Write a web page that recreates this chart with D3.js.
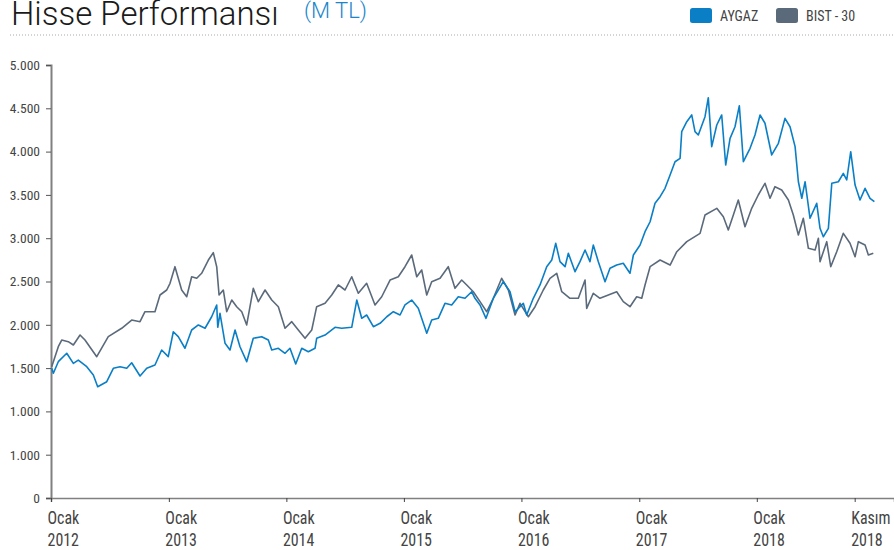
<!DOCTYPE html>
<html><head><meta charset="utf-8">
<script src="https://cdn.jsdelivr.net/npm/d3@7/dist/d3.min.js"></script>
<style>
body{margin:0;background:#fff;}
svg{display:block;}
</style></head>
<body><svg id="c" width="894" height="550"></svg>
<script>
// ---- data (years since 1 Jan 2012, values) ----
const bistTime = [0.006,0.062,0.091,0.147,0.190,0.247,0.289,0.389,0.487,0.601,0.686,0.757,0.799,0.884,0.927,0.984,1.012,1.054,1.111,1.154,1.196,1.239,1.281,1.338,1.380,1.409,1.429,1.465,1.494,1.537,1.579,1.622,1.664,1.720,1.763,1.820,1.877,1.933,1.990,2.047,2.103,2.160,2.217,2.259,2.330,2.387,2.443,2.500,2.557,2.613,2.684,2.755,2.812,2.883,2.953,3.010,3.067,3.110,3.152,3.195,3.237,3.308,3.378,3.435,3.492,3.535,3.591,3.648,3.705,3.761,3.832,3.889,3.946,3.988,4.059,4.116,4.186,4.243,4.300,4.343,4.413,4.484,4.541,4.555,4.611,4.668,4.739,4.810,4.866,4.923,4.980,5.023,5.051,5.094,5.179,5.264,5.321,5.406,5.519,5.561,5.661,5.717,5.759,5.802,5.844,5.901,5.958,6.014,6.071,6.114,6.156,6.213,6.270,6.312,6.355,6.397,6.440,6.497,6.525,6.539,6.596,6.630,6.681,6.737,6.794,6.837,6.865,6.922,6.950,6.992];
const bistValues = [1516,1747,1824,1805,1767,1882,1824,1632,1863,1960,2055,2036,2151,2151,2344,2402,2479,2671,2402,2324,2555,2537,2595,2748,2833,2671,2344,2402,2151,2286,2209,2151,1998,2421,2267,2402,2286,2209,1960,2036,1940,1844,1940,2209,2248,2344,2460,2402,2555,2364,2479,2229,2324,2517,2555,2671,2806,2555,2633,2344,2498,2537,2671,2421,2517,2460,2382,2267,2151,2306,2537,2402,2113,2248,2093,2209,2402,2537,2595,2382,2306,2306,2517,2190,2364,2306,2344,2382,2267,2209,2324,2306,2460,2671,2748,2690,2844,2960,3056,3268,3345,3248,3095,3268,3441,3133,3345,3499,3634,3461,3595,3556,3441,3268,3037,3230,2883,2864,2999,2729,2960,2671,2844,3056,2941,2786,2960,2921,2806,2826];
const aygazTime = [0.006,0.020,0.062,0.134,0.190,0.232,0.304,0.360,0.397,0.474,0.530,0.587,0.644,0.686,0.757,0.814,0.884,0.941,0.997,1.040,1.082,1.139,1.196,1.253,1.310,1.366,1.409,1.418,1.437,1.480,1.522,1.565,1.607,1.664,1.720,1.792,1.848,1.877,1.933,1.990,2.032,2.081,2.132,2.188,2.245,2.259,2.330,2.415,2.472,2.557,2.600,2.642,2.684,2.741,2.798,2.855,2.911,2.968,3.010,3.067,3.123,3.195,3.237,3.293,3.350,3.407,3.463,3.520,3.577,3.605,3.648,3.699,3.761,3.846,3.903,3.946,4.016,4.045,4.101,4.158,4.215,4.258,4.292,4.328,4.371,4.399,4.456,4.498,4.541,4.583,4.611,4.654,4.711,4.753,4.810,4.866,4.923,4.952,5.009,5.051,5.094,5.136,5.179,5.221,5.264,5.306,5.349,5.363,5.406,5.448,5.476,5.504,5.561,5.589,5.618,5.661,5.703,5.737,5.774,5.816,5.853,5.887,5.944,5.986,6.029,6.071,6.128,6.185,6.241,6.284,6.327,6.355,6.384,6.412,6.454,6.511,6.539,6.567,6.610,6.639,6.695,6.737,6.766,6.800,6.837,6.879,6.922,6.964,7.001];
const aygazValues = [1498,1440,1574,1671,1555,1593,1516,1420,1285,1343,1498,1516,1498,1562,1409,1498,1536,1709,1632,1920,1863,1729,1940,1998,1960,2093,2229,1971,2133,1786,1709,1940,1747,1574,1844,1863,1824,1709,1729,1671,1729,1547,1729,1689,1729,1844,1882,1971,1960,1971,2286,2075,2113,1978,2017,2093,2151,2113,2229,2286,2190,1902,2055,2075,2248,2229,2324,2306,2382,2306,2229,2075,2306,2498,2382,2151,2248,2113,2306,2460,2671,2748,2941,2729,2671,2826,2613,2729,2864,2729,2921,2729,2498,2652,2690,2710,2595,2806,2921,3075,3190,3403,3479,3576,3730,3883,3922,4230,4345,4423,4230,4192,4403,4622,4057,4307,4423,3845,4153,4287,4530,3883,4038,4192,4423,4327,3961,4096,4384,4287,4057,3652,3461,3652,3230,3403,3114,3017,3114,3634,3652,3749,3672,3999,3614,3441,3576,3461,3421];
const yTickValues = [0,500,1000,1500,2000,2500,3000,3500,4000,4500,5000];
const yTickLabels = ["0","1.000","1.000","1.500","2.000","2.500","3.000","3.500","4.000","4.500","5.000"];
const xTickDates = ["2012-01-01","2013-01-01","2014-01-01","2015-01-01","2016-01-01","2017-01-01","2018-01-01","2018-11-01"];
const xTickLabels = [["Ocak","2012"],["Ocak","2013"],["Ocak","2014"],["Ocak","2015"],["Ocak","2016"],["Ocak","2017"],["Ocak","2018"],["Kasım","2018"]];
const seriesNames = ["AYGAZ","BIST - 30"];
const seriesColors = ["#0a7fc6","#5b6a7b"];

// ---- helpers ----
const base = Date.UTC(2012,0,1);
const toDate = t => new Date(base + t*365.25*864e5);

const svg = d3.select("#c");
const x = d3.scaleUtc().domain([new Date(base), toDate(7.168)]).range([51, 894]);
const y = d3.scaleLinear().domain([0,5000]).range([498, 65]);

const narrow = "'Liberation Sans Narrow','Roboto Condensed','Arial Narrow',sans-serif";
const light = "Roboto, 'Liberation Sans', sans-serif";

// title
svg.append("text").attr("x",11).attr("y",25).attr("font-family",light)
  .attr("font-weight",300).attr("font-size",33).attr("fill","#1a1a1a").text("Hisse Performansı");
svg.append("text").attr("x",304).attr("y",18).attr("font-family",light)
  .attr("font-weight",300).attr("font-size",22).attr("fill","#1a86cc").text("(M TL)");

// dotted separator
svg.append("line").attr("x1",10).attr("x2",894).attr("y1",35).attr("y2",35)
  .attr("stroke","#aaa").attr("stroke-width",1).attr("stroke-dasharray","1,2");

// legend
const legX = [690, 776];
seriesNames.forEach((n,i)=>{
  svg.append("rect").attr("x",legX[i]).attr("y",8).attr("width",22).attr("height",15).attr("rx",2.5)
    .attr("fill",seriesColors[i]);
  svg.append("text").attr("x",legX[i]+30).attr("y",20.5).attr("font-family",narrow)
    .attr("font-size",14).attr("fill","#444").text(n);
});

// y axis
const yAxis = d3.axisLeft(y).tickValues(yTickValues).tickSize(5).tickPadding(6)
  .tickFormat((d,i)=>yTickLabels[i]);
const gy = svg.append("g").attr("transform","translate(51,0)").call(yAxis);
gy.select(".domain").attr("stroke","#808080").attr("stroke-width",2);
gy.selectAll(".tick line").attr("stroke","#555");
gy.selectAll(".tick text").attr("font-family",narrow).attr("font-size",13.5).attr("fill","#444");

// x axis
const xt = xTickDates.map(s=>new Date(s+"T00:00:00Z"));
const xAxis = d3.axisBottom(x).tickValues(xt).tickSize(4).tickFormat("");
const gx = svg.append("g").attr("transform","translate(0,498)").call(xAxis);
gx.select(".domain").attr("stroke","#808080").attr("stroke-width",1.5);
gx.selectAll(".tick line").attr("stroke","#444");
const sx = 0.84;
gx.selectAll(".tick").each(function(d,i){
  const t = d3.select(this).append("text").attr("font-family",narrow).attr("font-size",19)
    .attr("fill","#444").attr("text-anchor","start").attr("transform",`scale(${sx},1)`);
  t.append("tspan").attr("x",-4/sx).attr("y",26).text(xTickLabels[i][0]);
  t.append("tspan").attr("x",-4/sx).attr("y",48).text(xTickLabels[i][1]);
});

// lines
const line = d3.line().x(d=>x(d[0])).y(d=>y(d[1]));
const bist = bistTime.map((t,i)=>[toDate(t), bistValues[i]]);
const ayg = aygazTime.map((t,i)=>[toDate(t), aygazValues[i]]);
svg.append("path").datum(bist).attr("d",line).attr("fill","none")
  .attr("stroke",seriesColors[1]).attr("stroke-width",1.6).attr("stroke-linejoin","round");
svg.append("path").datum(ayg).attr("d",line).attr("fill","none")
  .attr("stroke",seriesColors[0]).attr("stroke-width",1.6).attr("stroke-linejoin","round");
</script></body></html>
